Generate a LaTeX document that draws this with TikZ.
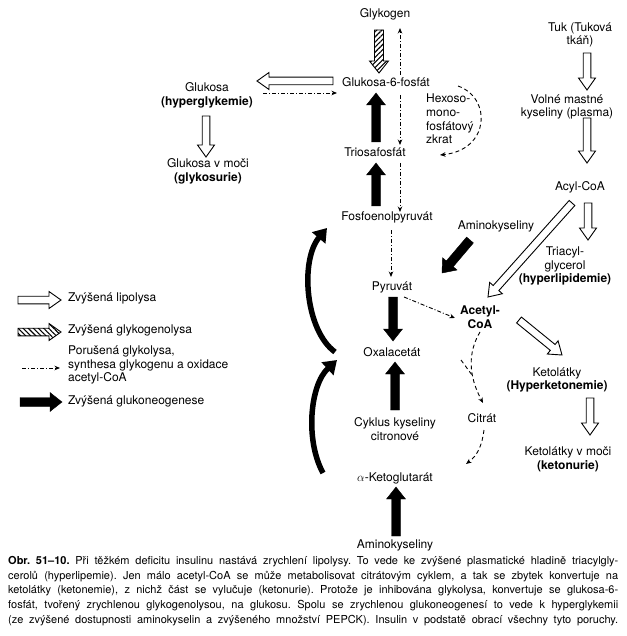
\documentclass[tikz,border=0pt]{standalone}
\usepackage{fontspec}
\setmainfont{TeX Gyre Heros}
\usetikzlibrary{arrows.meta,calc,patterns.meta}

\tikzset{bsw/.store in=\bsw, bhw/.store in=\bhw, bhl/.store in=\bhl,
  bsw=4pt, bhw=9pt, bhl=12pt}
% #1 look, #2 size, #3 from, #4 to
\newcommand{\blockarrow}[4]{%
  \path[#2] #3 coordinate (ba) #4 coordinate (bb) ($(bb)!\bhl!(ba)$) coordinate (bn)
    ($(ba)!\bsw!90:(bb)$) coordinate (b1) ($(bn)!\bsw!-90:(ba)$) coordinate (b2)
    ($(bn)!\bhw!-90:(ba)$) coordinate (b3) ($(bn)!\bhw!90:(ba)$) coordinate (b4)
    ($(bn)!\bsw!90:(ba)$) coordinate (b5) ($(ba)!\bsw!-90:(bb)$) coordinate (b6);
  \draw[#1] (b1) -- (b2) -- (b3) -- (bb) -- (b4) -- (b5) -- (b6) -- cycle;}
\newcommand{\capline}[1]{\hbox to 610pt{#1}}
\frenchspacing

\begin{document}
\begin{tikzpicture}[x=1pt,y=-1pt,
    every node/.style={font=\fontsize{12}{13.8}\selectfont, align=center, inner sep=2pt},
    lipo/.style={draw, fill=white, line width=0.9pt},
    glycogen/.style={draw, line width=0.9pt, pattern={Lines[angle=45,distance=3.6pt,line width=1.1pt]}},
    glycogenlg/.style={draw, line width=0.9pt, pattern={Lines[angle=-45,distance=3.6pt,line width=1.1pt]}},
    gneo/.style={draw, fill=black, line width=0.4pt},
    brokenflow/.style={line width=0.9pt, dash pattern=on 4pt off 2pt on 1pt off 2pt, -{Stealth[length=5.5pt,width=4.5pt]}},
    dashflow/.style={line width=0.9pt, dash pattern=on 4pt off 3pt, -{Stealth[length=5.5pt,width=4.5pt]}},
    gneocurve/.style={line width=5.5pt, -{Triangle[length=13pt,width=17pt]}},
    small head/.style={bsw=3.8pt, bhw=8.5pt, bhl=12pt},
    big head/.style={bsw=4.5pt, bhw=9.5pt, bhl=12pt}]
  \useasboundingbox (0,0) rectangle (626,636);

  % glycolysis column
  \node (gkg) at (385,14) {Glykogen};
  \node (g6p) at (386,82) {Glukosa-6-fosfát};
  \node (glc) at (207,95) {Glukosa\\\textbf{(hyperglykemie)}};
  \node (glcu) at (208,171) {Glukosa v moči\\\textbf{(glykosurie)}};
  \node (trio) at (375,152) {Triosafosfát};
  \node (hmp) [anchor=west, align=left] at (424,119) {Hexoso-\\mono-\\fosfátový\\zkrat};
  \node (pep) at (387,217) {Fosfoenolpyruvát};
  \node (pyr) at (392,287) {Pyruvát};
  \node (amk1) at (496,226) {Aminokyseliny};
  \node (oxal) at (392,352) {Oxalacetát};
  \node (cks) at (395,429) {Cyklus kyseliny\\citronové};
  \node (akg) at (395,478) {$\alpha$-Ketoglutarát};
  \node (amk2) at (395,545) {Aminokyseliny};
  \node (acoa) at (480,317) {\textbf{Acetyl-}\\\textbf{CoA}};
  \node (cit) at (482,418) {Citrát};

  % fat column
  \node (tuk) at (580,35) {Tuk (Tuková\\tkáň)};
  \node (vmk) at (567,107) {Volné mastné\\kyseliny (plasma)};
  \node (acyl) at (580,187) {Acyl-CoA};
  \node (tag) at (565,266) {Triacyl-\\glycerol\\\textbf{(hyperlipidemie)}};
  \node (ket) at (557,380) {Ketolátky\\\textbf{(Hyperketonemie)}};
  \node (ketu) at (568,459) {Ketolátky v moči\\\textbf{(ketonurie)}};

  % legend
  \node (lg1) [anchor=west] at (66,298) {Zvýšená lipolysa};
  \node (lg2) [anchor=west] at (66,330) {Zvýšená glykogenolysa};
  \node (lg3) [anchor=west, align=left] at (66,365) {Porušená glykolysa,\\synthesa glykogenu a oxidace\\acetyl-CoA};
  \node (lg4) [anchor=west] at (66,401) {Zvýšená glukoneogenese};

  \blockarrow{lipo}{small head}{($(lg1.west)+(-48,2)$)}{($(lg1.west)+(-5,2)$)}
  \blockarrow{glycogenlg}{small head}{($(lg2.west)+(-48,2)$)}{($(lg2.west)+(-5,2)$)}
  \draw[brokenflow] ($(lg3.west)+(-44,3)$) -- ($(lg3.west)+(-6,3)$);
  \blockarrow{gneo}{big head}{($(lg4.west)+(-46,1)$)}{($(lg4.west)+(-4,1)$)}

  % hollow arrows
  \blockarrow{lipo}{small head}{($(g6p)+(-53,-1)$)}{($(glc)+(50,-14)$)}
  \blockarrow{lipo}{small head}{($(glc)+(-1,21)$)}{($(glcu)+(-2,-14)$)}
  \blockarrow{lipo}{small head}{($(tuk)+(7,18)$)}{($(vmk)+(20,-17)$)}
  \blockarrow{lipo}{small head}{($(vmk)+(20,11)$)}{($(acyl)+(7,-24)$)}
  \blockarrow{lipo}{small head}{($(acyl)+(8,16)$)}{($(tag)+(23,-26)$)}
  \blockarrow{lipo}{small head}{($(acyl)+(-8,16)$)}{($(acoa)+(8,-20)$)}
  \blockarrow{lipo}{small head}{($(acoa)+(39,3)$)}{($(ket)+(5,-25)$)}
  \blockarrow{lipo}{small head}{($(ket)+(33,18)$)}{($(ketu)+(22,-24)$)}

  % hatched
  \blockarrow{glycogen}{big head}{($(gkg)+(-6,16)$)}{($(g6p)+(-7,-9)$)}

  % black arrows
  \blockarrow{gneo}{big head}{($(trio)+(1,-10)$)}{($(g6p)+(-10,11)$)}
  \blockarrow{gneo}{big head}{($(pep)+(-11,-11)$)}{($(trio)+(1,11)$)}
  \blockarrow{gneo}{big head}{($(pyr)+(1,10)$)}{($(oxal)+(1,-11)$)}
  \blockarrow{gneo}{big head}{($(amk1)+(-26,14)$)}{($(pyr)+(50,-14)$)}
  \blockarrow{gneo}{big head}{($(cks)+(0,-19)$)}{($(oxal)+(3,10)$)}
  \blockarrow{gneo}{big head}{($(amk2)+(1,-9)$)}{($(akg)+(1,9)$)}
  \draw[gneocurve] ($(oxal)+(-57,0)$) .. controls ($(oxal)+(-87,-22)$) and ($(pep)+(-87,43)$) .. ($(pep)+(-60,11)$);
  \draw[gneocurve] ($(akg)+(-72,-5)$) .. controls ($(akg)+(-90,-38)$) and ($(oxal)+(-82,33)$) .. ($(oxal)+(-55,8)$);

  % broken glycolysis
  \draw[brokenflow] ($(g6p)+(14,-7)$) -- ($(gkg)+(15,14)$);
  \draw[brokenflow] ($(glc)+(56,-2)$) -- ($(g6p)+(-49,11)$);
  \draw[brokenflow] ($(g6p)+(14,13)$) -- ($(trio)+(25,-7)$);
  \draw[brokenflow] ($(trio)+(25,11)$) -- ($(pep)+(13,-5)$);
  \draw[brokenflow] ($(pep)+(4,13)$) -- ($(pyr)+(-1,-10)$);
  \draw[brokenflow] ($(pyr)+(12,10)$) -- ($(acoa)+(-25,1)$);

  % dashed
  \draw[dashflow] ($(g6p)+(72,4)$) .. controls ($(g6p)+(106,16)$) and ($(trio)+(115,-2)$) .. ($(trio)+(65,3)$);
  \draw[dashflow] ($(acoa)+(0,15)$) .. controls ($(acoa)+(-12,35)$) and ($(acoa)+(-12,58)$) .. ($(cit)+(1,-15)$);
  \draw[dashflow,-] ($(oxal)+(69,8)$) -- ($(oxal)+(80,23)$);
  \draw[dashflow] ($(cit)+(2,12)$) .. controls ($(cit)+(0,27)$) and ($(cit)+(-4,37)$) .. ($(akg)+(71,-14)$);

  % caption
  \node (cap) [anchor=north west, inner sep=0pt, align=left, font=\fontsize{11}{14.8}\selectfont] at (8,556) {%
    \capline{\textbf{Obr. 51–10.} Při těžkém deficitu insulinu nastává zrychlení lipolysy. To vede ke zvýšené plasmatické hladině triacylgly-}\\
    \capline{cerolů (hyperlipemie). Jen málo acetyl-CoA se může metabolisovat citrátovým cyklem, a tak se zbytek konvertuje na}\\
    \capline{ketolátky (ketonemie), z nichž část se vylučuje (ketonurie). Protože je inhibována glykolysa, konvertuje se glukosa-6-}\\
    \capline{fosfát, tvořený zrychlenou glykogenolysou, na glukosu. Spolu se zrychlenou glukoneogenesí to vede k hyperglykemii}\\
    \capline{(ze zvýšené dostupnosti aminokyselin a zvýšeného množství PEPCK). Insulin v podstatě obrací všechny tyto poruchy.}};
\end{tikzpicture}
\end{document}
